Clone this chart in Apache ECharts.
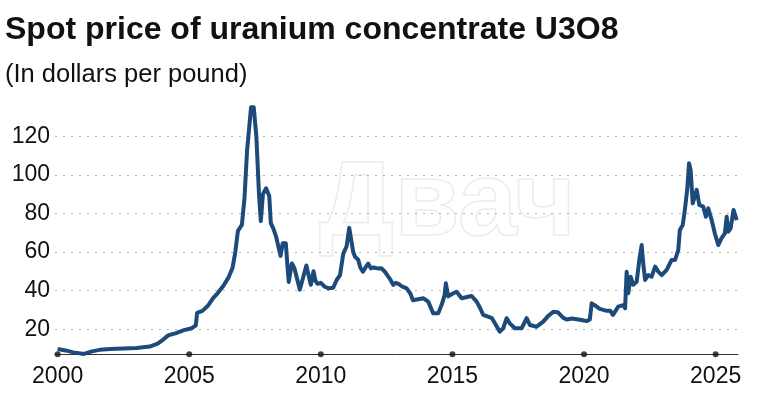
<!DOCTYPE html>
<html>
<head>
<meta charset="utf-8">
<script src="https://cdn.jsdelivr.net/npm/echarts@6/dist/echarts.min.js"></script>
<style>
  html, body { margin: 0; padding: 0; background: #ffffff; }
  #chart { width: 769px; height: 399px; }
</style>
</head>
<body>
<div id="chart"></div>
<script>
// spot price, decimal year -> dollars per pound
const years = [
  2000.0, 2000.3, 2000.6, 2001.0, 2001.3, 2001.6, 2002.0, 2002.5, 2003.0, 2003.5,
  2003.8, 2004.0, 2004.2, 2004.5, 2004.8, 2005.1, 2005.25, 2005.3, 2005.5, 2005.7,
  2005.9, 2006.1, 2006.3, 2006.5, 2006.65, 2006.75, 2006.85, 2007.0, 2007.1, 2007.2,
  2007.35, 2007.45, 2007.55, 2007.65, 2007.72, 2007.8, 2007.92, 2008.04, 2008.1, 2008.2,
  2008.3, 2008.4, 2008.47, 2008.55, 2008.67, 2008.72, 2008.78, 2008.9, 2009.0, 2009.1,
  2009.2, 2009.35, 2009.45, 2009.55, 2009.62, 2009.72, 2009.8, 2009.88, 2010.0, 2010.15,
  2010.3, 2010.47, 2010.6, 2010.73, 2010.85, 2010.98, 2011.08, 2011.17, 2011.23, 2011.3,
  2011.42, 2011.5, 2011.6, 2011.72, 2011.8, 2011.9, 2012.0, 2012.15, 2012.3, 2012.45,
  2012.55, 2012.65, 2012.75, 2012.85, 2012.95, 2013.1, 2013.26, 2013.4, 2013.5, 2013.7,
  2013.9, 2014.08, 2014.2, 2014.27, 2014.46, 2014.6, 2014.7, 2014.75, 2014.84, 2015.03,
  2015.16, 2015.35, 2015.6, 2015.73, 2015.92, 2016.05, 2016.17, 2016.35, 2016.5, 2016.68,
  2016.8, 2016.93, 2017.06, 2017.18, 2017.37, 2017.63, 2017.82, 2017.94, 2018.2, 2018.45,
  2018.65, 2018.83, 2019.0, 2019.2, 2019.34, 2019.55, 2019.72, 2019.9, 2020.1, 2020.22,
  2020.29, 2020.45, 2020.6, 2020.86, 2021.0, 2021.1, 2021.3, 2021.49, 2021.56, 2021.62,
  2021.68, 2021.77, 2021.87, 2022.0, 2022.1, 2022.19, 2022.25, 2022.32, 2022.44, 2022.57,
  2022.7, 2022.82, 2022.95, 2023.14, 2023.33, 2023.46, 2023.58, 2023.64, 2023.75, 2023.83,
  2023.92, 2023.99, 2024.05, 2024.13, 2024.28, 2024.38, 2024.53, 2024.63, 2024.72, 2024.85,
  2024.97, 2025.1, 2025.22, 2025.35, 2025.42, 2025.48, 2025.57, 2025.68, 2025.8
]
const prices = [
  9.7, 9.0, 8.0, 7.2, 8.5, 9.3, 9.8, 10.0, 10.3, 11.0,
  12.5, 14.5, 16.8, 18.0, 19.5, 20.5, 22, 28.5, 29.5, 32,
  36, 39, 42.5, 47, 52, 60, 71, 74, 88, 113,
  135, 135, 120, 90, 76, 90, 93, 89, 75, 72,
  68, 62, 58, 64.5, 64.5, 55, 44.5, 54, 51.5, 46,
  40.5, 48, 53, 47, 43, 50, 45, 43.5, 44, 42,
  41.2, 41.5, 45.5, 48, 59, 63, 72.5, 65, 60, 57.5,
  56, 52, 49.8, 52.5, 54, 51.5, 52, 51.5, 51.6, 49.5,
  47.5, 45.5, 43, 44, 43.5, 42, 41.2, 38.5, 35, 35.5,
  36, 34.3, 30.5, 28.2, 28.2, 33, 37.5, 43.8, 37, 38.6,
  39.4, 36, 36.8, 37.2, 34.3, 31, 27.4, 26.5, 25.7, 21.5,
  18.7, 20.5, 25.7, 23, 20.5, 20.5, 25.7, 22.2, 21.3, 23.9,
  27, 29, 28.8, 26, 25, 25.5, 25.2, 24.8, 24.2, 25,
  33.4, 32, 30.5, 29.5, 29.5, 27.4, 31.7, 32.5, 30.8, 49.8,
  38.6, 47.2, 43, 44.6, 55.9, 63.6, 54, 45.5, 48, 47.2,
  52.4, 49.8, 48, 50.7, 55.9, 55.9, 61, 71.4, 74, 81.8,
  92.2, 106, 102.5, 85.2, 92.2, 84.4, 83.5, 78.3, 82.6, 76.5,
  69.6, 63.6, 67, 69.6, 78.3, 70.5, 72.3, 81.8, 76.5
]
const tickYears = [2000, 2005, 2010, 2015, 2020, 2025]
const axisBase = 7 // price level where the x axis line sits

const chart = echarts.init(document.getElementById('chart'))
const font = '"Liberation Sans", Arial, Helvetica, sans-serif'
const pxPerUnit = (367.8 - 97.6) / 140

chart.setOption({
  backgroundColor: '#ffffff',
  animation: false,
  title: {
    text: 'Spot price of uranium concentrate U3O8',
    subtext: '(In dollars per pound)',
    left: 0,
    top: 9,
    itemGap: 16,
    textStyle: { fontFamily: font, fontSize: 32, fontWeight: 'bold', color: '#111111' },
    subtextStyle: { fontFamily: font, fontSize: 25.5, color: '#111111' }
  },
  graphic: [{
    // faint watermark
    type: 'text',
    left: 318,
    top: 152,
    z: -1,
    silent: true,
    style: {
      text: 'Двач',
      fontFamily: font,
      fontSize: 106,
      fontWeight: 'bold',
      fill: 'rgba(0,0,0,0)',
      stroke: '#ececec',
      lineWidth: 1.5
    }
  }],
  grid: { left: 55, right: 31, top: 97.6, bottom: 31.2 },
  xAxis: {
    type: 'value',
    min: 1999.9,
    max: 2025.85,
    offset: -axisBase * pxPerUnit,
    axisLine: { show: true, lineStyle: { color: '#333333', width: 1 } },
    axisTick: { show: false },
    splitLine: { show: false },
    axisLabel: {
      customValues: tickYears,
      margin: 11,
      fontFamily: font,
      fontSize: 23,
      color: '#111111',
      formatter: v => String(Math.round(v))
    }
  },
  yAxis: {
    type: 'value',
    min: 0,
    max: 140,
    interval: 20,
    axisLine: { show: false },
    axisTick: { show: false },
    axisLabel: {
      margin: 5,
      fontFamily: font,
      fontSize: 23,
      color: '#111111',
      showMinLabel: false,
      showMaxLabel: false
    },
    splitLine: {
      show: true,
      showMinLine: false,
      showMaxLine: false,
      lineStyle: { color: '#b4b4b4', type: [2, 6], width: 1 }
    }
  },
  series: [{
    type: 'line',
    data: years.map((y, i) => [y, prices[i]]),
    showSymbol: false,
    lineStyle: { color: '#1c4a7a', width: 4, join: 'round' },
    z: 3
  }, {
    type: 'scatter',
    data: tickYears.map(y => [y, axisBase]),
    symbol: 'circle',
    symbolSize: 6,
    itemStyle: { color: '#111111' },
    z: 4
  }]
})
</script>
</body>
</html>
